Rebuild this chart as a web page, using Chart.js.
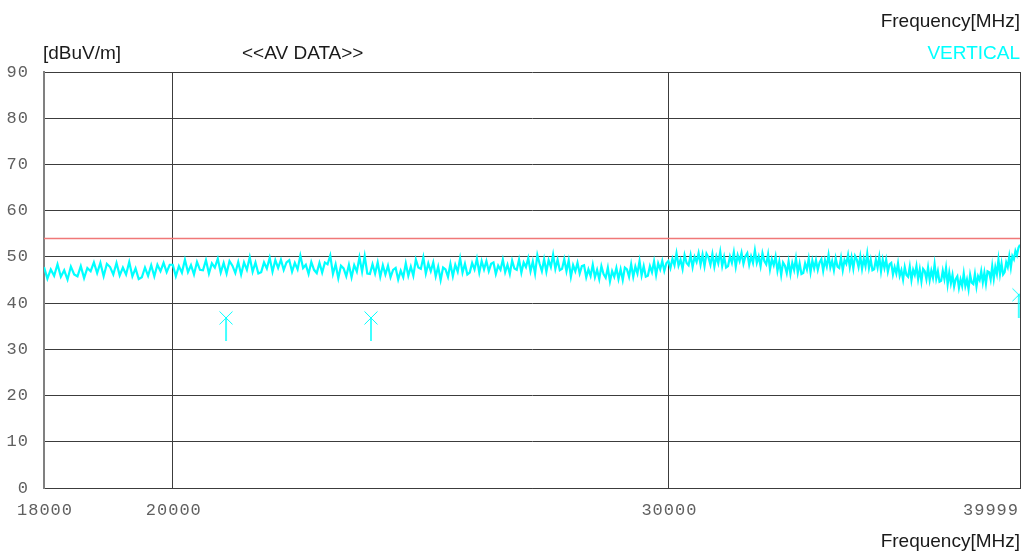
<!DOCTYPE html>
<html>
<head>
<meta charset="utf-8">
<script src="https://cdn.jsdelivr.net/npm/chart.js@4"></script>
<style>
  html, body { margin: 0; padding: 0; background: #fff; }
  #wrap { width: 1025px; height: 555px; }
</style>
</head>
<body>
<div id="wrap"><canvas id="emiChart" width="1025" height="555"></canvas></div>
<script>
// sweep 18000..39999 MHz, 50 MHz step
const freqStart = 18000;
const freqStep = 50;
const freqStop = 39999;

// AV trace, VERTICAL [dBuV/m]
const avLevel = [
  47.8, 45.3, 47.3, 45.9, 48.4, 45.7, 47.1, 45.1, 47.9, 46.2,
  45.8, 48.0, 45.4, 47.6, 46.9, 48.8, 46.5, 48.7, 45.8, 48.5,
  47.8, 46.2, 48.7, 46.0, 47.7, 46.2, 48.9, 45.8, 47.5, 45.2,
  45.6, 47.7, 45.9, 48.2, 45.8, 48.3, 46.9, 48.7, 46.7, 48.3,
  48.3, 45.8, 48.0, 46.6, 49.4, 46.7, 48.2, 46.2, 48.9, 47.2,
  47.1, 49.3, 46.4, 48.6, 47.7, 49.6, 46.6, 48.7, 46.4, 49.1,
  48.1, 46.5, 48.9, 46.2, 48.8, 47.2, 49.9, 46.8, 48.8, 46.4,
  46.7, 48.8, 47.5, 49.8, 46.8, 49.3, 47.6, 49.4, 47.2, 48.8,
  49.3, 46.8, 48.7, 47.3, 50.3, 47.6, 48.3, 46.3, 48.9, 47.2,
  46.5, 48.7, 46.6, 48.8, 48.4, 50.3, 46.3, 48.4, 45.4, 48.1,
  47.5, 45.8, 48.3, 45.6, 48.2, 46.8, 49.9, 46.8, 50.2, 46.4,
  46.3, 48.4, 46.4, 48.8, 45.7, 48.2, 46.2, 48.1, 45.6, 47.2,
  47.6, 45.1, 47.0, 45.6, 48.6, 45.9, 47.9, 45.9, 49.4, 47.7,
  47.4, 49.9, 46.4, 48.6, 46.9, 48.8, 45.8, 47.9, 45.0, 47.7,
  47.3, 45.7, 48.5, 45.8, 48.3, 46.8, 49.7, 46.6, 48.5, 46.2,
  46.6, 48.7, 47.3, 49.6, 46.6, 49.1, 47.3, 49.1, 46.9, 48.5,
  48.8, 46.3, 48.1, 47.2, 49.4, 46.7, 48.3, 46.3, 49.2, 47.5,
  47.2, 49.4, 46.6, 48.8, 47.8, 49.7, 46.9, 49.0, 46.4, 50.4,
  48.5, 46.9, 49.5, 46.8, 49.3, 47.8, 50.5, 47.4, 49.4, 47.1,
  47.4, 49.5, 46.9, 49.2, 45.7, 48.2, 46.9, 48.7, 46.4, 48.0,
  48.2, 45.6, 47.3, 45.9, 48.3, 45.6, 47.2, 45.2, 48.0, 46.3,
  45.5, 47.7, 44.7, 46.9, 45.7, 47.6, 45.2, 47.3, 45.0, 47.7,
  47.3, 45.7, 48.4, 45.7, 47.9, 46.4, 49.1, 46.0, 48.0, 45.7,
  45.9, 48.0, 46.7, 49.0, 46.1, 48.6, 47.3, 49.1, 47.0, 48.6,
  49.1, 47.6, 49.6, 48.2, 50.8, 48.1, 49.4, 47.4, 50.4, 48.7,
  48.2, 50.4, 47.8, 50.0, 48.9, 50.8, 48.3, 50.5, 48.0, 50.7,
  49.9, 48.3, 50.6, 47.9, 50.1, 48.6, 51.1, 48.0, 50.0, 47.7,
  48.0, 50.1, 48.7, 51.0, 47.9, 50.4, 49.1, 50.9, 48.5, 50.1,
  50.8, 48.3, 50.1, 48.7, 51.4, 48.7, 50.1, 48.0, 50.8, 49.1,
  48.4, 50.6, 47.3, 49.5, 48.2, 50.1, 47.0, 49.0, 46.1, 48.8,
  48.1, 46.5, 49.0, 46.3, 48.7, 47.2, 49.7, 46.6, 48.6, 46.3,
  46.5, 48.6, 47.3, 49.6, 46.7, 49.2, 47.5, 49.3, 47.2, 48.8,
  49.5, 47.0, 49.3, 47.9, 50.4, 47.7, 49.1, 47.1, 49.7, 47.9,
  47.6, 49.8, 47.1, 49.3, 48.5, 50.4, 47.8, 49.9, 47.5, 50.2,
  49.4, 47.8, 50.1, 47.4, 49.6, 48.0, 50.7, 47.6, 49.4, 47.1,
  47.3, 49.4, 47.7, 50.0, 46.9, 49.4, 47.6, 49.4, 46.8, 48.4,
  48.7, 46.2, 47.8, 46.4, 48.6, 45.9, 47.1, 45.1, 47.8, 46.1,
  45.7, 47.9, 45.0, 47.2, 46.1, 48.0, 45.2, 47.3, 44.7, 47.4,
  46.9, 45.2, 47.7, 45.0, 47.0, 45.5, 48.4, 45.3, 46.9, 44.6,
  44.8, 47.0, 45.2, 47.6, 44.1, 46.6, 44.3, 46.1, 43.6, 45.2,
  45.8, 43.3, 45.1, 43.7, 46.4, 43.7, 45.1, 43.0, 46.1, 44.4,
  44.1, 46.3, 43.6, 45.8, 45.0, 46.9, 44.5, 46.6, 44.2, 46.9,
  46.7, 45.1, 48.0, 45.3, 47.8, 46.3, 49.4, 46.3, 48.5, 46.2,
  46.7, 48.8, 47.8, 50.1, 47.7, 50.2, 49.5, 51.3, 50.4, 52.0,
  52.6
];

// peak markers
const markerFreq = [20890, 23520, 39960];
const markerLevel = [36.8, 36.8, 41.8];

const limitLevel = 54;

const xTicks = [18000, 20000, 30000, 39999];
const yTicks = [0, 10, 20, 30, 40, 50, 60, 70, 80, 90];

const CYAN = "#00ffff";
const GRID = "#3c3c3c";

const tracePoints = avLevel.map((v, i) => ({
  x: Math.min(freqStart + i * freqStep, freqStop),
  y: v
}));
const markerPoints = markerFreq.map((f, i) => ({ x: f, y: markerLevel[i] }));
const limitPoints = [{ x: freqStart, y: limitLevel }, { x: freqStop, y: limitLevel }];

// marker glyph: an X with a tail going down
function makeMarker() {
  const c = document.createElement("canvas");
  c.width = 14;
  c.height = 46;
  const g = c.getContext("2d");
  g.strokeStyle = CYAN;
  g.lineWidth = 1;
  g.beginPath();
  g.moveTo(0.5, 16.5); g.lineTo(13.5, 29.5);
  g.moveTo(13.5, 16.5); g.lineTo(0.5, 29.5);
  g.stroke();
  g.lineWidth = 1.5;
  g.beginPath();
  g.moveTo(7, 23); g.lineTo(7, 46);
  g.stroke();
  return c;
}

const textPlugin = {
  id: "emiText",
  afterDraw(chart) {
    const ctx = chart.ctx;
    const xs = chart.scales.x;
    const ys = chart.scales.y;
    ctx.save();

    // tick labels
    ctx.font = "17px 'Liberation Mono', monospace";
    ctx.letterSpacing = "1px";
    ctx.fillStyle = "#606060";
    ctx.textBaseline = "middle";
    ctx.textAlign = "right";
    yTicks.forEach(v => ctx.fillText(String(v), 29, ys.getPixelForValue(v)));

    ctx.textBaseline = "alphabetic";
    xTicks.forEach((f, i) => {
      const px = xs.getPixelForValue(f);
      if (i === xTicks.length - 1) {
        ctx.textAlign = "right";
        ctx.fillText(String(f), px - 1, 515);
      } else {
        ctx.textAlign = "center";
        ctx.fillText(String(f), px + 1, 515);
      }
    });
    ctx.letterSpacing = "0px";

    // headings
    ctx.font = "19px 'Liberation Sans', Arial, sans-serif";
    ctx.fillStyle = "#1a1a1a";
    ctx.textAlign = "left";
    ctx.fillText("[dBuV/m]", 43, 59);
    ctx.fillText("<<AV DATA>>", 242, 59);
    ctx.textAlign = "right";
    ctx.fillText("Frequency[MHz]", 1020, 27);
    ctx.fillText("Frequency[MHz]", 1020, 547);
    ctx.fillStyle = CYAN;
    ctx.fillText("VERTICAL", 1020, 59);

    ctx.restore();
  }
};

new Chart(document.getElementById("emiChart"), {
  type: "line",
  data: {
    datasets: [
      {
        label: "Limit",
        data: limitPoints,
        borderColor: "#f07878",
        borderWidth: 1.5,
        pointRadius: 0
      },
      {
        label: "VERTICAL",
        data: tracePoints,
        borderColor: CYAN,
        borderWidth: 2.2,
        pointRadius: 0,
        tension: 0
      },
      {
        type: "scatter",
        label: "Markers",
        data: markerPoints,
        showLine: false,
        pointStyle: makeMarker(),
        pointRadius: 7
      }
    ]
  },
  options: {
    responsive: false,
    animation: false,
    layout: { autoPadding: false, padding: { left: 44, right: 5, top: 72, bottom: 67 } },
    plugins: {
      legend: { display: false },
      tooltip: { enabled: false }
    },
    scales: {
      x: {
        type: "logarithmic",
        min: freqStart,
        max: freqStop,
        afterBuildTicks: (scale) => { scale.ticks = xTicks.map(v => ({ value: v })); },
        ticks: { display: false },
        grid: { color: GRID, lineWidth: 1, drawTicks: false },
        border: { color: GRID, width: 1 }
      },
      y: {
        min: 0,
        max: 90,
        afterBuildTicks: (scale) => { scale.ticks = yTicks.map(v => ({ value: v })); },
        ticks: { display: false },
        grid: { color: GRID, lineWidth: 1, drawTicks: false },
        border: { color: "#808080", width: 2 }
      }
    }
  },
  plugins: [textPlugin]
});
</script>
</body>
</html>
